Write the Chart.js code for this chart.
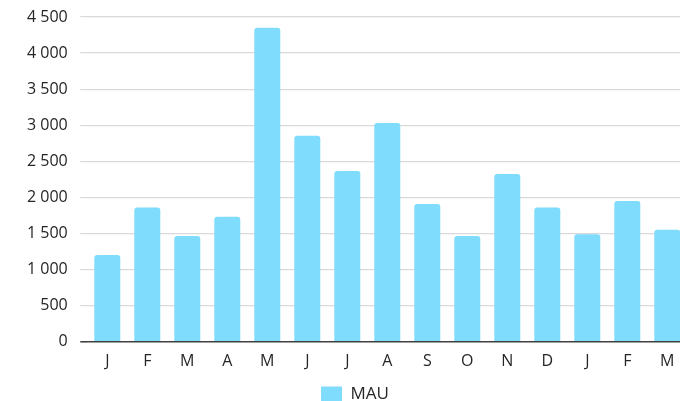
<!DOCTYPE html>
<html>
<head>
<meta charset="utf-8">
<script src="https://cdn.jsdelivr.net/npm/chart.js@4/dist/chart.umd.min.js"></script>
<style>
  html, body { margin: 0; padding: 0; background: #fff; overflow: hidden; }
  #wrap { position: relative; width: 690px; height: 413px; }
</style>
</head>
<body>
<div id="wrap"><canvas id="c" width="690" height="413"></canvas></div>
<script>
// Monthly active users, January through March of the following year
const months = ['J', 'F', 'M', 'A', 'M', 'J', 'J', 'A', 'S', 'O', 'N', 'D', 'J', 'F', 'M'];
const mau = [1200, 1860, 1465, 1730, 4350, 2855, 2365, 3030, 1910, 1465, 2325, 1860, 1490, 1950, 1550];
const seriesName = 'MAU';
const yTicks = [0, 500, 1000, 1500, 2000, 2500, 3000, 3500, 4000, 4500];

const barColor = '#80dcfc';
const textColor = '#262626';
const fontFamily = '"Open Sans", "DejaVu Sans", sans-serif';

// thousands grouped with a space, e.g. 4 500
const fmt = v => String(v).replace(/\B(?=(\d{3})+(?!\d))/g, ' ');

new Chart(document.getElementById('c'), {
  type: 'bar',
  data: {
    labels: months,
    datasets: [{
      label: seriesName,
      data: mau,
      backgroundColor: barColor,
      borderWidth: 0,
      borderRadius: { topLeft: 3, topRight: 3, bottomLeft: 0, bottomRight: 0 },
      borderSkipped: 'bottom',
      categoryPercentage: 1,
      barPercentage: 0.65
    }]
  },
  options: {
    responsive: false,
    animation: false,
    devicePixelRatio: 1,
    layout: { padding: { top: 17, left: 22.7, right: 2.7, bottom: 0 } },
    plugins: {
      tooltip: { enabled: false },
      legend: {
        position: 'bottom',
        labels: {
          color: textColor,
          font: { family: fontFamily, size: 17 },
          boxWidth: 21,
          boxHeight: 16,
          padding: 10
        }
      }
    },
    scales: {
      x: {
        grid: { display: false, drawTicks: false },
        border: { display: false },
        ticks: {
          color: textColor,
          font: { family: fontFamily, size: 16 },
          padding: 10,
          autoSkip: false,
          maxRotation: 0
        },
        afterFit: s => { s.height = 34.3; }
      },
      y: {
        min: 0,
        max: 4500,
        afterBuildTicks: s => { s.ticks = yTicks.map(v => ({ value: v })); },
        grid: {
          color: c => (c.tick && c.tick.value === 0) ? '#404040' : '#d9d9d9',
          lineWidth: c => (c.tick && c.tick.value === 0) ? 1.6 : 1.2,
          tickLength: 7,
          drawTicks: true
        },
        border: { display: false },
        ticks: {
          color: textColor,
          font: { family: fontFamily, size: 16 },
          padding: 12.6,
          callback: v => fmt(v)
        },
        afterFit: s => {
          s.width = 64.6;
          s.paddingTop = 0;
          s.paddingBottom = 0;
        }
      }
    }
  }
});
</script>
</body>
</html>
